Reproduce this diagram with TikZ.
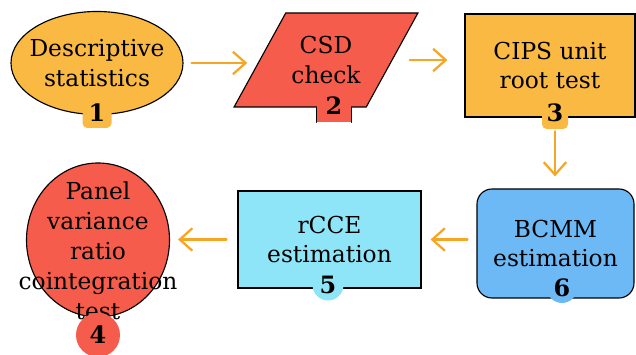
\documentclass[tikz,border=0pt]{standalone}
\usepackage{fontspec}
\setmainfont{DejaVu Serif}
\usepackage{tikz}
\usetikzlibrary{arrows.meta,shapes.geometric}
\usepackage{xcolor}
\definecolor{stepora}{HTML}{F9B942}
\definecolor{stepred}{HTML}{F65C4B}
\definecolor{stepcyan}{HTML}{8EE5F7}
\definecolor{stepblue}{HTML}{6CB9F5}
\definecolor{flowora}{HTML}{F6A623}

\begin{document}
\begin{tikzpicture}[>={Straight Barb[length=9pt,width=16pt]},font=\fontsize{16.6}{21.3}\selectfont,line cap=round,
  box/.style={draw=black,line width=0.8pt,align=center,inner sep=0pt},
  badge/.style={inner sep=0pt,font=\fontsize{17}{21.3}\selectfont\bfseries},
  flow/.style={->,draw=flowora,line width=1.6pt}]
\useasboundingbox (0,0) rectangle (15.9,8.875);
\node[box,ellipse,fill=stepora,minimum width=4.3cm,minimum height=2.575cm,inner sep=-0.3cm] (desc) at (2.425,7.3) {Descriptive\\statistics};
\node[box,trapezium,trapezium stretches=true,trapezium left angle=47,trapezium right angle=133,fill=stepred,minimum width=4.6cm,minimum height=2.35cm] (csd) at (8.15,7.375) {CSD\\check};
\node[box,fill=stepora,minimum width=4.25cm,minimum height=2.575cm] (cips) at (13.75,7.2375) {CIPS unit\\root test};
\node[box,rounded corners=0.375cm,fill=stepblue,minimum width=3.925cm,minimum height=2.725cm] (bcmm) at (13.8875,2.7875) {BCMM\\estimation};
\node[box,fill=stepcyan,minimum width=4.575cm,minimum height=2.425cm] (rcce) at (8.2375,2.8875) {rCCE\\estimation};
\node[box,ellipse,fill=stepred,minimum width=3.575cm,minimum height=3.85cm,inner sep=-1cm] (pvr) at (2.45,2.875) {};
\node[align=center,inner sep=0pt] (pvrtext) at (2.45,2.6) {Panel\\variance\\ratio\\cointegration\\test};
% step numbers
\node[badge,fill=stepora,rounded corners=0.12cm,minimum width=0.725cm,minimum height=0.75cm] (n1) at (2.425,6.05) {1};
\node[badge,fill=stepred,minimum width=0.85cm,minimum height=0.8cm] (n2) at (8.35,6.225) {2};
\draw[line width=0.8pt] (n2.south west) -- (n2.south west |- csd.south);
\draw[line width=0.8pt] (n2.south east) -- (n2.south east |- csd.south);
\node[badge,fill=stepora,rounded corners=0.12cm,minimum width=0.65cm,minimum height=0.8cm] (n3) at (13.875,6.05) {3};
\node[badge,circle,fill=stepred,minimum size=1.1cm] (n4) at (2.45,0.5) {4};
\node[badge,circle,fill=stepcyan,minimum size=0.775cm] (n5) at (8.2,1.75) {5};
\node[badge,circle,fill=stepblue,minimum size=0.75cm] (n6) at (14.05,1.675) {6};
% flow
\draw[flow,shorten <=0.2cm,shorten >=0.3cm] (desc.east) -- (desc.east -| csd.west);
\draw[flow,shorten <=0.425cm,shorten >=0.425cm] (csd.east) -- (csd.east -| cips.west);
\draw[flow,shorten <=0.05cm,shorten >=0.3cm] (n3.south) -- (n3.south |- bcmm.north);
\draw[flow,shorten <=0.225cm,shorten >=0.225cm] (bcmm.west |- rcce.east) -- (rcce.east);
\draw[flow,shorten <=0.275cm,shorten >=0.2cm] (rcce.west) -- (rcce.west -| pvr.east);
\end{tikzpicture}
\end{document}
